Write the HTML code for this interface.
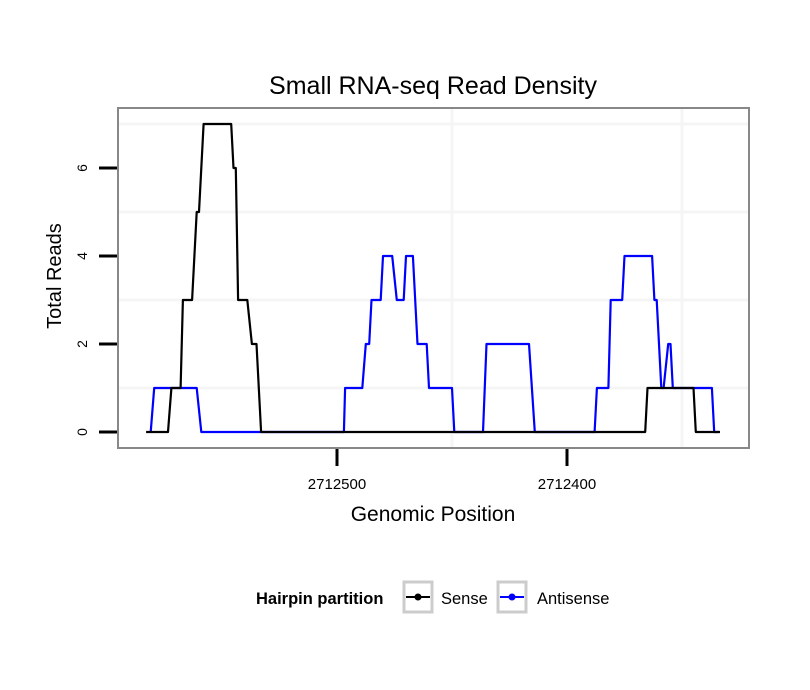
<!DOCTYPE html>
<html><head><meta charset="utf-8">
<style>
html,body{margin:0;padding:0;background:#fff;}
svg{display:block;font-family:"Liberation Sans",Arial,sans-serif;}
</style></head>
<body>
<svg id="chart" width="810" height="690" viewBox="0 0 810 690" xmlns="http://www.w3.org/2000/svg">
  <rect width="810" height="690" fill="#fff"/>
  <text x="433" y="94" font-size="25" text-anchor="middle" fill="#000">Small RNA-seq Read Density</text>
  <g id="grid"></g>
  <g id="series"></g>
  <rect x="118" y="108" width="631" height="340" fill="none" stroke="#888" stroke-width="2"/>
  <g id="axes"></g>
  <text x="433" y="521" font-size="21" text-anchor="middle" fill="#000">Genomic Position</text>
  <text transform="translate(61,276) rotate(-90)" font-size="20" text-anchor="middle" fill="#000">Total Reads</text>
  <g>
    <text x="256" y="604" font-size="16.5" font-weight="bold" fill="#000">Hairpin partition</text>
    <g>
      <rect x="404" y="582" width="28" height="30" fill="#fff" stroke="#ccc" stroke-width="3"/>
      <line x1="406" y1="597" x2="430" y2="597" stroke="#000" stroke-width="2"/>
      <circle cx="418" cy="597" r="3.5" fill="#000"/>
      <text x="441" y="604" font-size="16.5" fill="#000">Sense</text>
    </g>
    <g>
      <rect x="498" y="582" width="28" height="30" fill="#fff" stroke="#ccc" stroke-width="3"/>
      <line x1="500" y1="597" x2="524" y2="597" stroke="#00f" stroke-width="2"/>
      <circle cx="512" cy="597" r="3.5" fill="#00f"/>
      <text x="537" y="604" font-size="16.5" fill="#000">Antisense</text>
    </g>
  </g>
</svg>
<script>
const senseX = [2712583,2712573.5,2712572,2712568,2712567,2712563,2712561,2712560,2712558,2712546,2712545,2712544,2712543,2712539,2712537,2712535,2712533,2712366,2712365,2712345,2712344,2712333.5];
const senseY = [0,0,1,1,3,3,5,5,7,7,6,6,3,3,2,2,0,0,1,1,0,0];
const antiX = [2712581,2712579.5,2712561,2712559,2712497,2712496.5,2712489,2712487.5,2712486,2712485,2712481,2712480,2712476,2712474,2712471,2712470,2712467,2712465,2712461,2712460,2712450,2712449,2712436.5,2712435,2712416.5,2712414,2712388,2712387,2712382,2712381,2712376,2712375,2712363,2712362,2712361,2712359,2712358,2712356,2712355,2712354,2712337,2712336,2712334];
const antiY = [0,1,1,0,0,1,1,2,2,3,3,4,4,3,3,4,4,2,2,1,1,0,0,2,2,0,0,1,1,3,3,4,4,3,3,1,1,2,2,1,1,0,0];
const xTicks = [2712500,2712400];
const xTickLabels = ["2712500","2712400"];
const yTicks = [0,2,4,6];
const yMinor = [1,3,5,7];
const xMinor = [2712450,2712350];

const NS = "http://www.w3.org/2000/svg";
function xs(v){ return 337 + (2712500 - v) * 2.3; }
function ys(v){ return 432 - v * 44; }
function mk(tag, attrs, parent){ const e=document.createElementNS(NS,tag); for(const k in attrs) e.setAttribute(k,attrs[k]); parent.appendChild(e); return e; }

const grid=document.getElementById('grid'), axes=document.getElementById('axes'), series=document.getElementById('series');
yMinor.forEach(v=>{
  const l=mk('line',{x1:119,x2:748,y1:ys(v),y2:ys(v),stroke:'#f5f5f5','stroke-width':3},grid);
  
  
});
xMinor.forEach(v=>{
  const l=mk('line',{x1:xs(v),x2:xs(v),y1:109,y2:447,stroke:'#f5f5f5','stroke-width':3},grid);
  
  
});
yTicks.forEach(v=>{
  const t=mk('line',{x1:99,x2:117,y1:ys(v),y2:ys(v),stroke:'#000','stroke-width':3},axes);
  
  
  const tx=mk('text',{transform:`translate(87,${ys(v)}) rotate(-90)`,'font-size':14,'text-anchor':'middle',fill:'#000'},axes);
  tx.textContent=String(v);
  
  
});
xTicks.forEach((v,i)=>{
  const t=mk('line',{x1:xs(v),x2:xs(v),y1:449,y2:466,stroke:'#000','stroke-width':3},axes);
  
  
  const tx=mk('text',{x:xs(v),y:489,'font-size':15,'text-anchor':'middle',fill:'#000'},axes);
  tx.textContent=xTickLabels[i];
  
  
});
function drawLine(X,Y,color,name){
  const d=X.map((x,i)=>(i?'L':'M')+xs(x).toFixed(1)+','+ys(Y[i]).toFixed(1)).join(' ');
  const p=mk('path',{d:d,fill:'none',stroke:color,'stroke-width':2.2,'stroke-linejoin':'round'},series);
  
  
}
drawLine(antiX,antiY,'#0000ff','antisense-line');
drawLine(senseX,senseY,'#000000','sense-line');
</script>
</body></html>
